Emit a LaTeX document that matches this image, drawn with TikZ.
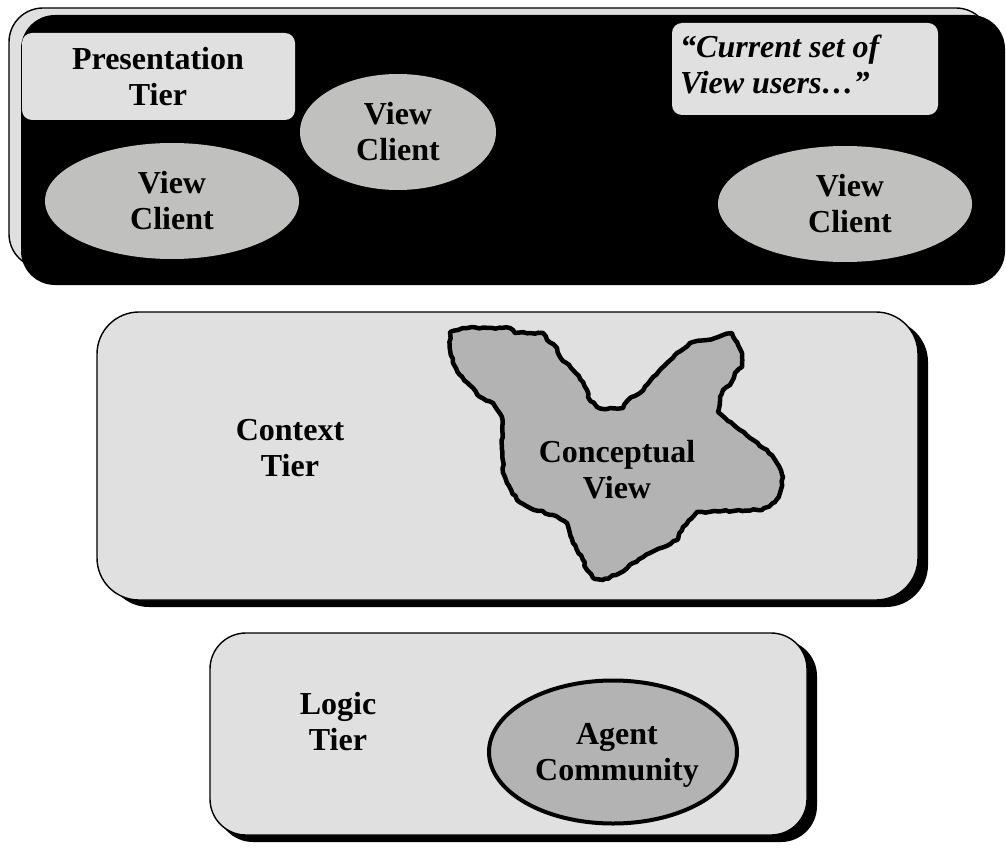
\documentclass[tikz,border=0pt]{standalone}
\usepackage{fontspec}
\setmainfont{Liberation Serif}
\usetikzlibrary{shapes.geometric,decorations.pathmorphing}
\definecolor{tierfill}{HTML}{E0E0E0}
\definecolor{clientfill}{HTML}{C0C1BF}
\definecolor{corefill}{HTML}{B3B3B3}
\begin{document}
\begin{tikzpicture}[x=1pt,y=-1pt,
  lbl/.style={font=\fontsize{32}{36}\selectfont\bfseries, align=center, inner sep=0pt},
  qlbl/.style={font=\fontsize{32}{36}\selectfont\bfseries\itshape, align=left, inner sep=0pt},
  tierbox/.style={fill=tierfill, draw=black, line width=1.4pt},
  shadowbox/.style={fill=black},
  client/.style={ellipse, fill=clientfill, inner sep=0pt},
  core/.style={fill=corefill, draw=black, line width=4.5pt, line join=round}]
\useasboundingbox (0,0) rectangle (1006,853);
\pgfmathsetseed{7}

% presentation tier: pale frame with a black panel laid over it
\draw[tierbox, rounded corners=34] (9,8) rectangle (990,268);
\fill[black, rounded corners=34] (21,15) rectangle (1005,285);
\fill[tierfill, rounded corners=10] (22,33) rectangle (295,120);
\node[lbl] (ptier) at (158,77) {Presentation\\Tier};
\fill[tierfill, rounded corners=10] (672,23) rectangle (938,115);
\node[qlbl, anchor=west] (quote) at (680,64) {“Current set of\\View users…”};
\node[client, minimum width=254, minimum height=116] (vc1) at (172,201) {};
\node[lbl] at (vc1) {View\\Client};
\node[client, minimum width=196, minimum height=116] (vc2) at (398,132) {};
\node[lbl] at (vc2) {View\\Client};
\node[client, minimum width=254, minimum height=116] (vc3) at (845,204) {};
\node[lbl] at ([xshift=5]vc3) {View\\Client};

% context tier
\fill[shadowbox, rounded corners=42] (107,320) rectangle (928,607);
\draw[tierbox, rounded corners=42] (97,312) rectangle (918,600);
\node[lbl] (ctier) at (290,448) {Context\\Tier};
\draw[core, decorate, decoration={random steps, segment length=4pt, amplitude=0.9pt}]
  (450,332) -- (463,328) -- (510,328) -- (515,333) -- (543,333)
  -- (547,340) -- (557,348) -- (560,357) -- (573,370) -- (583,382)
  -- (587,390) -- (588,397) -- (597,407) -- (607,409) -- (623,408)
  -- (628,400) -- (640,393) -- (653,377) -- (667,363) -- (677,353)
  -- (690,343) -- (707,340) -- (723,335) -- (732,333) -- (737,342)
  -- (742,353) -- (742,367) -- (735,373) -- (730,385) -- (723,390)
  -- (720,397) -- (718,412) -- (725,418) -- (740,430) -- (750,438)
  -- (767,450) -- (777,463) -- (783,477) -- (780,493) -- (775,502)
  -- (762,510) -- (697,512) -- (683,527) -- (677,540) -- (650,553)
  -- (633,563) -- (620,573) -- (603,580) -- (593,578) -- (587,570)
  -- (583,560) -- (573,543) -- (567,523) -- (553,515) -- (530,508)
  -- (517,500) -- (507,483) -- (503,473) -- (502,417) -- (493,403)
  -- (480,397) -- (473,388) -- (460,375) -- (453,363) -- (450,350) -- cycle;
\node[lbl] (cview) at (617,470) {Conceptual\\View};

% logic tier
\fill[shadowbox, rounded corners=36] (217,640) rectangle (817,842);
\draw[tierbox, rounded corners=36] (210,633) rectangle (807,835);
\node[lbl] (ltier) at (338,722) {Logic\\Tier};
\node[ellipse, core, line width=4pt, minimum width=248, minimum height=143] (agents) at (613,752) {};
\node[lbl] at (617,755) {Agent\\Community};
\end{tikzpicture}
\end{document}
